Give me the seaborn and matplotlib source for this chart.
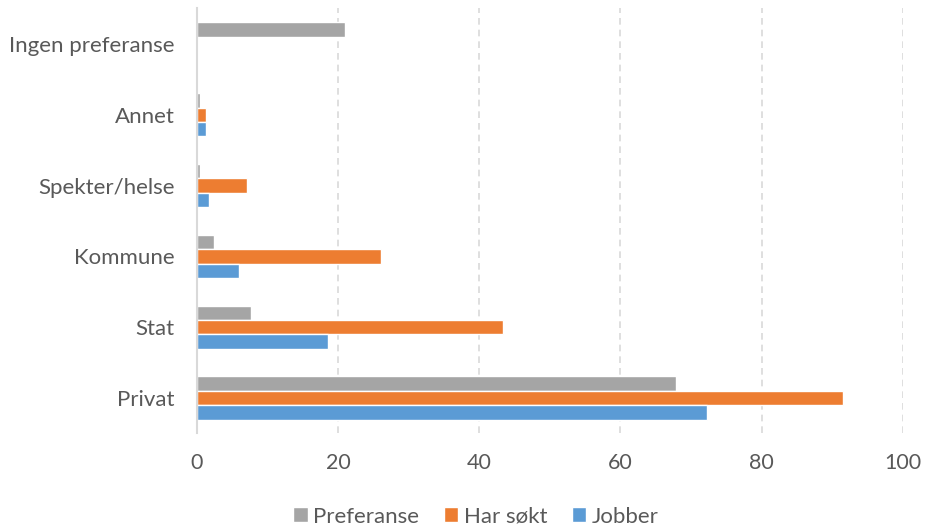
import pandas as pd
import seaborn as sns
import matplotlib.pyplot as plt

categories = ["Ingen preferanse", "Annet", "Spekter/helse", "Kommune", "Stat", "Privat"]
series = ["Preferanse", "Har søkt", "Jobber"]
preferanse = [21.0, 0.4, 0.4, 2.4, 7.6, 67.9]
har_sokt = [0.0, 1.3, 7.1, 26.1, 43.4, 91.5]
jobber = [0.0, 1.3, 1.7, 5.9, 18.6, 72.3]
colors = ["#A5A5A5", "#ED7D31", "#5B9BD5"]

df = pd.DataFrame({
    "Kategori": categories * 3,
    "Verdi": preferanse + har_sokt + jobber,
    "Serie": [s for s in series for _ in categories],
})

sns.set_theme(style="white")
plt.rcParams['font.family'] = ['Lato', 'DejaVu Sans']
text_col = "#595959"

fig = plt.figure(figsize=(9.25, 5.28), dpi=100)
ax = fig.add_axes([0.213, 0.179, 0.763, 0.805])
sns.barplot(data=df, y="Kategori", x="Verdi", hue="Serie", order=categories,
            hue_order=series, palette=colors, orient="h", width=0.61,
            saturation=1, ax=ax)

ax.set_xlim(0, 100)
ax.set_xticks([0, 20, 40, 60, 80, 100])
ax.set_xlabel(None)
ax.set_ylabel(None)
ax.grid(axis="x", color="#D9D9D9", linestyle=(0, (4, 3)), linewidth=1.2)
ax.set_axisbelow(True)
for s in ["top", "right", "bottom"]:
    ax.spines[s].set_visible(False)
ax.spines["left"].set_color("#D9D9D9")
ax.spines["left"].set_linewidth(1.5)
ax.tick_params(axis="y", length=0, labelsize=16, labelcolor=text_col, pad=16)
ax.tick_params(axis="x", length=0, labelsize=15.5, labelcolor=text_col, pad=14)

leg = ax.legend(loc="lower center", bbox_to_anchor=(0.395, -0.24), ncol=3,
                frameon=False, fontsize=16, handlelength=0.65, handleheight=0.65,
                handletextpad=0.25, columnspacing=1.1, borderaxespad=0)
for t in leg.get_texts():
    t.set_color(text_col)

fig.savefig("out.png", dpi=100)
